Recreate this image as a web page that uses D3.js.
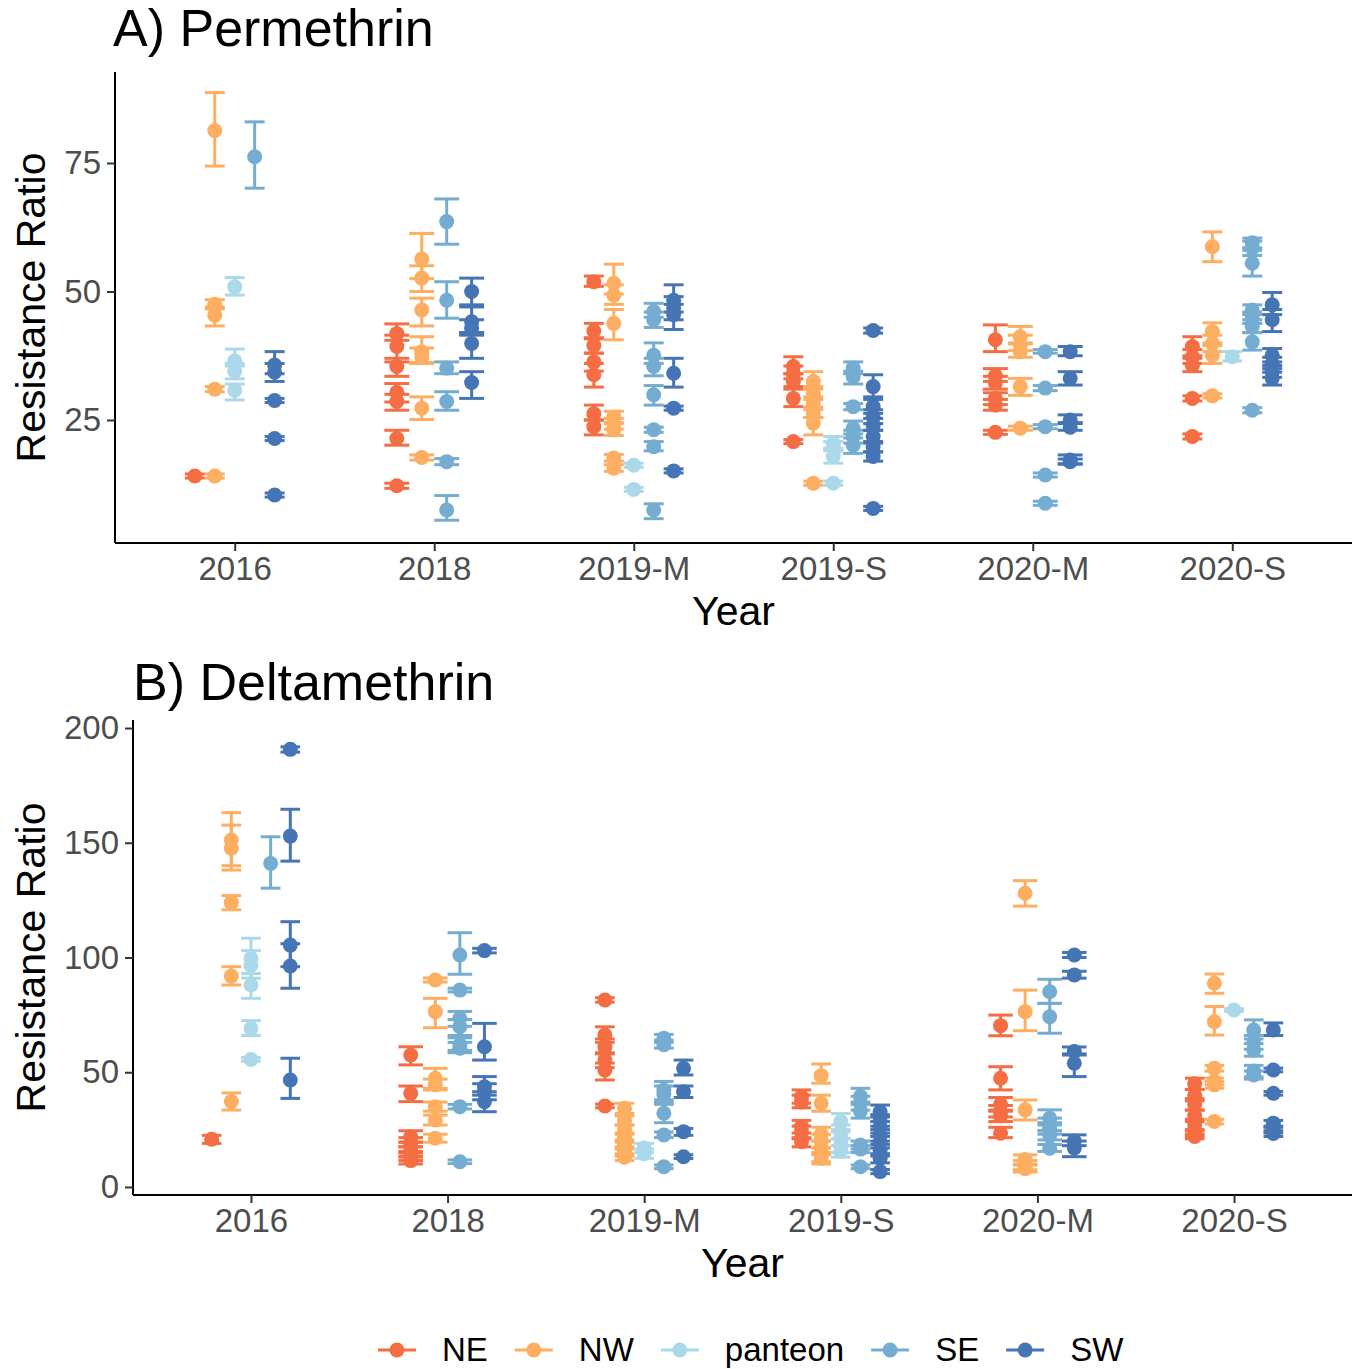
<!DOCTYPE html>
<html lang="en">
<head>
<meta charset="UTF-8">
<title>Resistance Ratio by Year</title>
<script src="https://d3js.org/d3.v7.min.js"></script>
<style>
    body { margin: 0; background: #fff; }
    text { font-family: "Liberation Sans", Arial, sans-serif; }
</style>
</head>
<body>
<div id="chart"></div>
<script>
    // Categories
    const years = ["2016", "2018", "2019-M", "2019-S", "2020-M", "2020-S"];
    const regions = ["NE", "NW", "panteon", "SE", "SW"];
    const regionColors = ["#f46d43", "#fdae61", "#abd9e9", "#74add1", "#4575b4"];

    // Tick labels
    const permTicks = [25, 50, 75];
    const deltaTicks = [0, 50, 100, 150, 200];

    // Permethrin rows: [year, region, ratio, lower, upper]
    const permethrin = [
        ["2016","NE",14.1,13.7,14.5],
        ["2016","NW",81.3,74.4,88.7],["2016","NW",47.5,46.6,48.4],["2016","NW",45.4,43.3,47.0],["2016","NW",31.0,30.5,31.5],["2016","NW",14.1,13.7,14.5],
        ["2016","panteon",50.9,49.3,52.7],["2016","panteon",36.5,35.5,38.8],["2016","panteon",34.5,33.0,36.0],["2016","panteon",30.8,28.9,32.0],
        ["2016","SE",76.2,70.1,83.0],
        ["2016","SW",35.7,34.0,38.3],["2016","SW",34.3,32.5,36.0],["2016","SW",28.8,28.4,29.2],["2016","SW",21.4,21.0,21.8],["2016","SW",10.4,10.0,10.8],

        ["2018","NE",41.8,40.5,43.7],["2018","NE",39.3,36.3,41.5],["2018","NE",35.4,33.5,37.0],["2018","NE",30.4,28.5,32.1],["2018","NE",28.6,26.9,30.0],["2018","NE",21.4,20.1,23.0],["2018","NE",12.2,11.7,12.7],
        ["2018","NW",56.3,52.5,61.3],["2018","NW",52.6,50.0,55.0],["2018","NW",46.4,43.3,48.7],["2018","NW",38.3,36.2,41.2],["2018","NW",37.3,36.0,39.0],["2018","NW",27.3,25.1,29.5],["2018","NW",17.7,17.2,18.2],
        ["2018","SE",63.6,59.2,68.0],["2018","SE",48.3,44.8,51.9],["2018","SE",35.1,34.0,36.3],["2018","SE",28.6,26.9,30.5],["2018","SE",16.9,16.3,17.5],["2018","SE",7.5,5.5,10.3],
        ["2018","SW",50.0,47.4,52.6],["2018","SW",44.1,42.0,47.0],["2018","SW",42.8,41.5,44.5],["2018","SW",39.9,37.0,42.0],["2018","SW",32.3,29.2,34.4],

        ["2019-M","NE",51.9,51.0,53.0],["2019-M","NE",42.3,40.8,43.8],["2019-M","NE",39.5,38.0,41.0],["2019-M","NE",36.3,34.5,38.0],["2019-M","NE",33.8,31.4,36.0],["2019-M","NE",26.2,25.0,27.9],["2019-M","NE",23.7,22.1,25.0],
        ["2019-M","NW",51.6,49.5,55.3],["2019-M","NW",49.3,47.5,51.3],["2019-M","NW",43.8,40.6,46.5],["2019-M","NW",25.6,24.5,26.7],["2019-M","NW",24.2,23.2,25.3],["2019-M","NW",23.1,22.0,24.3],["2019-M","NW",17.6,17.0,18.3],["2019-M","NW",15.6,15.0,16.3],
        ["2019-M","panteon",16.2,15.8,16.6],["2019-M","panteon",11.5,11.1,11.9],
        ["2019-M","SE",46.1,45.0,47.7],["2019-M","SE",44.5,43.0,46.0],["2019-M","SE",37.6,36.0,40.0],["2019-M","SE",35.4,33.6,37.0],["2019-M","SE",29.9,27.9,31.7],["2019-M","SE",23.1,22.6,23.6],["2019-M","SE",19.8,19.0,20.8],["2019-M","SE",7.5,5.8,8.7],
        ["2019-M","SW",48.3,46.0,51.3],["2019-M","SW",46.8,44.5,49.0],["2019-M","SW",45.5,42.6,47.5],["2019-M","SW",34.1,31.4,37.0],["2019-M","SW",27.3,26.9,27.7],["2019-M","SW",15.1,14.7,15.5],

        ["2019-S","NE",35.4,34.0,37.3],["2019-S","NE",34.0,33.0,35.5],["2019-S","NE",32.5,31.5,34.0],["2019-S","NE",29.2,27.6,31.0],["2019-S","NE",20.8,20.4,21.2],
        ["2019-S","NW",32.5,31.0,34.4],["2019-S","NW",30.2,29.0,31.5],["2019-S","NW",28.2,27.0,29.5],["2019-S","NW",26.3,25.5,27.5],["2019-S","NW",24.4,22.1,25.5],["2019-S","NW",12.7,12.3,13.1],
        ["2019-S","panteon",20.5,19.5,21.8],["2019-S","panteon",19.8,19.0,20.8],["2019-S","panteon",17.9,16.6,19.2],["2019-S","panteon",12.7,12.3,13.1],
        ["2019-S","SE",35.1,34.0,36.3],["2019-S","SE",33.4,32.0,34.5],["2019-S","SE",27.6,27.0,28.2],["2019-S","SE",23.4,22.3,24.8],["2019-S","SE",21.8,20.5,23.0],["2019-S","SE",20.1,18.5,21.5],
        ["2019-S","SW",42.4,41.9,42.9],["2019-S","SW",31.5,29.5,33.8],["2019-S","SW",27.6,26.3,29.0],["2019-S","SW",25.6,24.3,27.0],["2019-S","SW",24.0,23.0,25.3],["2019-S","SW",21.8,20.5,23.0],["2019-S","SW",19.8,18.8,20.8],["2019-S","SW",17.9,17.0,18.8],["2019-S","SW",7.8,7.4,8.2],

        ["2020-M","NE",40.6,38.3,43.5],["2020-M","NE",33.6,32.5,35.0],["2020-M","NE",32.2,31.0,33.5],["2020-M","NE",29.2,28.0,30.3],["2020-M","NE",27.9,26.9,29.0],["2020-M","NE",22.6,22.2,23.0],
        ["2020-M","NW",41.2,39.8,43.2],["2020-M","NW",39.6,38.5,41.5],["2020-M","NW",38.3,37.2,40.0],["2020-M","NW",31.5,29.8,33.1],["2020-M","NW",23.4,23.0,23.8],
        ["2020-M","SE",38.3,38.0,38.7],["2020-M","SE",31.2,30.7,31.7],["2020-M","SE",23.7,23.3,24.1],["2020-M","SE",14.3,13.9,14.7],["2020-M","SE",8.8,8.4,9.2],
        ["2020-M","SW",38.3,37.5,39.3],["2020-M","SW",33.1,31.8,34.4],["2020-M","SW",25.0,24.3,26.0],["2020-M","SW",23.6,23.0,24.5],["2020-M","SW",17.2,16.5,18.2],["2020-M","SW",16.9,16.4,17.4],

        ["2020-S","NE",39.3,37.5,41.2],["2020-S","NE",37.3,36.0,38.7],["2020-S","NE",35.6,34.4,37.0],["2020-S","NE",29.2,28.7,29.7],["2020-S","NE",21.8,21.3,22.3],
        ["2020-S","NW",58.7,55.8,61.6],["2020-S","NW",42.2,40.0,43.9],["2020-S","NW",39.9,38.3,41.5],["2020-S","NW",37.6,36.0,39.5],["2020-S","NW",29.7,29.3,30.1],
        ["2020-S","panteon",37.3,36.5,38.3],
        ["2020-S","SE",59.5,58.5,60.4],["2020-S","SE",58.4,57.0,59.8],["2020-S","SE",55.5,53.0,58.0],["2020-S","SE",46.4,45.5,47.4],["2020-S","SE",44.8,43.8,46.0],["2020-S","SE",43.2,42.0,44.5],["2020-S","SE",40.2,38.6,42.0],["2020-S","SE",26.9,26.4,27.4],
        ["2020-S","SW",47.4,45.5,49.8],["2020-S","SW",44.5,42.2,46.5],["2020-S","SW",37.6,36.3,38.9],["2020-S","SW",36.0,35.0,37.2],["2020-S","SW",34.4,33.3,35.6],["2020-S","SW",33.1,31.8,34.3]
    ];

    // Deltamethrin rows: [year, region, ratio, lower, upper]
    const deltamethrin = [
        ["2016","NE",20.8,19.0,22.5],
        ["2016","NW",151.2,140.0,163.1],["2016","NW",147.6,138.1,157.7],["2016","NW",123.9,120.8,127.0],["2016","NW",91.9,88.0,96.0],["2016","NW",37.2,33.5,41.0],
        ["2016","panteon",99.7,93.0,108.4],["2016","panteon",96.5,91.0,103.0],["2016","panteon",88.0,82.2,93.0],["2016","panteon",69.1,66.0,72.5],["2016","panteon",55.6,54.8,56.4],
        ["2016","SE",141.0,130.2,152.6],
        ["2016","SW",190.7,189.5,191.8],["2016","SW",152.9,142.0,164.6],["2016","SW",105.4,96.0,115.6],["2016","SW",96.3,86.6,106.0],["2016","SW",46.6,38.6,56.1],

        ["2018","NE",57.5,53.2,61.1],["2018","NE",40.8,37.2,44.0],["2018","NE",21.9,19.5,24.5],["2018","NE",19.5,17.5,21.5],["2018","NE",17.6,15.5,19.5],["2018","NE",15.5,13.5,17.5],["2018","NE",13.2,11.5,15.0],["2018","NE",11.5,10.0,13.0],
        ["2018","NW",90.2,89.3,91.1],["2018","NW",76.4,69.4,82.2],["2018","NW",47.4,43.0,51.7],["2018","NW",44.5,42.3,47.0],["2018","NW",35.0,33.0,37.0],["2018","NW",29.2,27.0,31.3],["2018","NW",21.2,19.5,23.0],
        ["2018","SE",101.1,92.7,110.8],["2018","SE",85.8,85.0,86.6],["2018","SE",73.5,70.0,76.5],["2018","SE",69.8,66.0,73.0],["2018","SE",62.0,59.5,65.0],["2018","SE",60.5,58.5,63.0],["2018","SE",35.0,34.0,36.0],["2018","SE",11.0,10.2,11.8],
        ["2018","SW",103.0,102.0,104.0],["2018","SW",61.1,55.3,71.3],["2018","SW",43.7,40.0,48.1],["2018","SW",41.5,38.0,45.0],["2018","SW",37.2,32.8,41.5],

        ["2019-M","NE",81.5,80.5,82.5],["2019-M","NE",66.2,63.0,69.8],["2019-M","NE",61.1,58.0,64.5],["2019-M","NE",55.3,52.0,58.5],["2019-M","NE",51.0,46.6,54.0],["2019-M","NE",35.3,34.5,36.1],
        ["2019-M","NW",34.3,32.0,36.5],["2019-M","NW",29.0,27.0,31.0],["2019-M","NW",25.0,23.0,27.0],["2019-M","NW",21.5,19.5,23.5],["2019-M","NW",18.5,16.5,20.5],["2019-M","NW",15.5,13.5,17.5],["2019-M","NW",13.0,11.5,14.5],
        ["2019-M","panteon",17.0,15.0,19.0],["2019-M","panteon",14.5,12.5,16.5],
        ["2019-M","SE",64.8,63.0,66.5],["2019-M","SE",62.0,60.5,64.0],["2019-M","SE",42.3,38.0,46.0],["2019-M","SE",40.5,37.0,44.0],["2019-M","SE",32.1,28.0,36.0],["2019-M","SE",22.7,21.5,24.0],["2019-M","SE",8.8,8.0,9.6],
        ["2019-M","SW",51.7,48.8,55.3],["2019-M","SW",41.5,39.0,44.0],["2019-M","SW",24.1,22.5,25.5],["2019-M","SW",13.2,12.4,14.0],

        ["2019-S","NE",39.3,36.5,42.3],["2019-S","NE",37.0,34.5,40.0],["2019-S","NE",26.3,23.5,29.0],["2019-S","NE",24.0,21.5,26.5],["2019-S","NE",19.7,17.5,21.0],
        ["2019-S","NW",48.5,45.2,53.6],["2019-S","NW",36.5,33.0,40.0],["2019-S","NW",23.0,20.0,26.0],["2019-S","NW",20.0,17.0,23.0],["2019-S","NW",17.0,14.0,20.0],["2019-S","NW",14.0,11.0,17.0],["2019-S","NW",12.5,10.0,15.0],
        ["2019-S","panteon",28.5,25.0,32.0],["2019-S","panteon",24.0,21.0,27.0],["2019-S","panteon",21.0,18.0,24.0],["2019-S","panteon",18.0,15.0,21.0],["2019-S","panteon",15.5,13.0,18.0],
        ["2019-S","SE",39.5,37.0,43.0],["2019-S","SE",36.5,33.5,39.5],["2019-S","SE",33.0,30.0,36.0],["2019-S","SE",18.3,16.5,20.0],["2019-S","SE",16.5,15.0,18.0],["2019-S","SE",8.8,8.0,9.6],
        ["2019-S","SW",32.8,30.5,35.7],["2019-S","SW",29.0,26.5,31.5],["2019-S","SW",26.0,23.5,28.5],["2019-S","SW",22.5,20.0,25.0],["2019-S","SW",19.5,17.0,22.0],["2019-S","SW",16.0,13.5,18.5],["2019-S","SW",12.5,10.5,14.5],["2019-S","SW",6.7,5.8,7.6],

        ["2020-M","NE",70.3,65.9,74.9],["2020-M","NE",47.4,42.3,52.4],["2020-M","NE",36.0,33.0,39.0],["2020-M","NE",33.0,30.5,35.5],["2020-M","NE",31.0,28.5,33.5],["2020-M","NE",23.4,21.5,26.0],
        ["2020-M","NW",128.0,122.4,133.5],["2020-M","NW",76.4,68.1,85.8],["2020-M","NW",33.6,29.2,37.9],["2020-M","NW",12.0,10.0,14.0],["2020-M","NW",9.5,7.5,11.5],["2020-M","NW",8.0,6.5,9.5],
        ["2020-M","SE",85.1,80.0,90.5],["2020-M","SE",74.2,67.0,80.0],["2020-M","SE",29.9,27.0,33.6],["2020-M","SE",27.0,24.5,30.0],["2020-M","SE",25.6,23.0,28.0],["2020-M","SE",22.5,20.5,24.5],["2020-M","SE",16.9,15.5,18.5],
        ["2020-M","SW",101.1,100.0,102.2],["2020-M","SW",92.4,91.0,94.0],["2020-M","SW",59.0,57.5,61.0],["2020-M","SW",53.9,48.1,58.0],["2020-M","SW",20.0,18.0,22.7],["2020-M","SW",17.0,13.2,20.0],

        ["2020-S","NE",45.0,42.5,47.4],["2020-S","NE",40.0,37.5,42.5],["2020-S","NE",36.0,33.5,38.5],["2020-S","NE",31.0,28.5,33.5],["2020-S","NE",27.0,24.5,29.5],["2020-S","NE",23.4,22.0,25.0],["2020-S","NE",22.0,21.0,23.0],
        ["2020-S","NW",88.8,84.4,92.8],["2020-S","NW",72.0,66.2,78.6],["2020-S","NW",51.7,50.5,53.0],["2020-S","NW",46.0,44.5,47.5],["2020-S","NW",44.5,43.0,46.0],["2020-S","NW",28.5,27.5,29.5],
        ["2020-S","panteon",77.1,76.5,77.7],
        ["2020-S","SE",68.4,64.5,72.8],["2020-S","SE",63.0,60.0,66.0],["2020-S","SE",59.7,57.0,62.5],["2020-S","SE",50.5,48.0,53.0],["2020-S","SE",48.8,47.0,50.5],
        ["2020-S","SW",68.4,66.0,71.5],["2020-S","SW",51.0,50.2,51.8],["2020-S","SW",40.8,40.0,41.6],["2020-S","SW",27.8,26.5,29.0],["2020-S","SW",24.8,23.5,26.0],["2020-S","SW",23.3,22.0,24.5]
    ];

    const W = 1362, H = 1369;
    const color = d3.scaleOrdinal().domain(regions).range(regionColors);

    const svg = d3.select('#chart')
        .append('svg')
        .attr('width', W)
        .attr('height', H);

    const dodgeWidth = 0.5;

    function drawPanel(opts) {
        const x = d3.scalePoint().domain(years).range([opts.left, opts.right]).padding(0.6);
        const y = d3.scaleLinear().domain(opts.yDomain).range([opts.bottom, opts.top]);
        const step = x.step();
        const g = svg.append('g');

        // which regions are present in each year -> dodge positions
        const present = {};
        years.forEach(yr => {
            present[yr] = regions.filter(r => opts.rows.some(d => d[0] === yr && d[1] === r));
        });
        const xPos = d => {
            const list = present[d[0]];
            const n = list.length;
            const i = list.indexOf(d[1]);
            return x(d[0]) + (i - (n - 1) / 2) * (dodgeWidth / n) * step;
        };
        const capHalf = d => (dodgeWidth / present[d[0]].length) * step / 2;

        // Error bars
        const eb = g.append('g').selectAll('g')
            .data(opts.rows)
            .join('g')
            .attr('stroke', d => color(d[1]))
            .attr('stroke-width', 3)
            .attr('fill', 'none');
        eb.append('line')
            .attr('x1', xPos).attr('x2', xPos)
            .attr('y1', d => y(d[3])).attr('y2', d => y(d[4]));
        eb.append('line')
            .attr('x1', d => xPos(d) - capHalf(d)).attr('x2', d => xPos(d) + capHalf(d))
            .attr('y1', d => y(d[3])).attr('y2', d => y(d[3]));
        eb.append('line')
            .attr('x1', d => xPos(d) - capHalf(d)).attr('x2', d => xPos(d) + capHalf(d))
            .attr('y1', d => y(d[4])).attr('y2', d => y(d[4]));

        // Points
        g.append('g').selectAll('circle')
            .data(opts.rows)
            .join('circle')
            .attr('cx', xPos)
            .attr('cy', d => y(d[2]))
            .attr('r', 7.5)
            .attr('fill', d => color(d[1]));

        // Axes
        const xAxis = g.append('g')
            .attr('transform', `translate(0,${opts.bottom})`)
            .call(d3.axisBottom(x).tickSize(8).tickPadding(6).tickSizeOuter(0));
        xAxis.select('.domain').attr('d', `M${opts.left},0H${opts.right}`);
        const yAxis = g.append('g')
            .attr('transform', `translate(${opts.left},0)`)
            .call(d3.axisLeft(y).tickValues(opts.ticks).tickSize(8).tickPadding(6).tickSizeOuter(0));
        yAxis.select('.domain').attr('d', `M0,${opts.top}V${opts.bottom}`);

        [xAxis, yAxis].forEach(a => {
            a.select('.domain').attr('stroke', '#000').attr('stroke-width', 2);
            a.selectAll('.tick line').attr('stroke', '#333').attr('stroke-width', 2);
            a.selectAll('.tick text')
                .attr('fill', '#4d4d4d')
                .style('font-size', '33px')
                .style('font-family', '"Liberation Sans", Arial, sans-serif');
        });

        // Titles
        g.append('text')
            .attr('x', opts.titleX).attr('y', opts.titleY)
            .style('font-size', '52px')
            .text(opts.title);
        g.append('text')
            .attr('x', (opts.left + opts.right) / 2).attr('y', opts.bottom + 82)
            .attr('text-anchor', 'middle')
            .style('font-size', '41px')
            .text('Year');
        g.append('text')
            .attr('transform', `translate(45,${(opts.top + opts.bottom) / 2}) rotate(-90)`)
            .attr('text-anchor', 'middle')
            .style('font-size', '41px')
            .text('Resistance Ratio');
    }

    drawPanel({
        rows: permethrin, ticks: permTicks, yDomain: [1.07, 92.7],
        left: 115, right: 1352, top: 72, bottom: 543,
        title: 'A) Permethrin', titleX: 113, titleY: 46
    });
    drawPanel({
        rows: deltamethrin, ticks: deltaTicks, yDomain: [-3.5, 203.5],
        left: 133, right: 1352, top: 720, bottom: 1195,
        title: 'B) Deltamethrin', titleX: 133, titleY: 700
    });

    // Legend
    const legend = svg.append('g').attr('transform', 'translate(378,1350)');
    let lx = 0;
    regions.forEach(r => {
        const item = legend.append('g').attr('transform', `translate(${lx},0)`);
        item.append('line').attr('x1', 0).attr('x2', 38).attr('y1', 0).attr('y2', 0)
            .attr('stroke', color(r)).attr('stroke-width', 3);
        item.append('circle').attr('cx', 19).attr('cy', 0).attr('r', 7.5).attr('fill', color(r));
        const t = item.append('text').attr('x', 64).attr('y', 11)
            .style('font-size', '33px').text(r);
        lx += 64 + t.node().getComputedTextLength() + 27;
    });
</script>
</body>
</html>
